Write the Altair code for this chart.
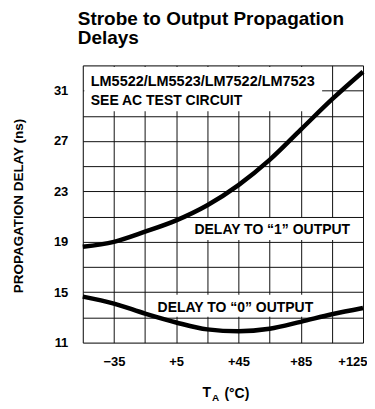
import altair as alt
import pandas as pd

# Data
temps = [-55, -35, -15, 5, 25, 45, 65, 85, 105, 125]
delay_one = [18.6, 19.0, 19.8, 20.7, 21.9, 23.5, 25.5, 27.9, 30.3, 32.5]
delay_zero = [14.65, 14.1, 13.3, 12.6, 12.05, 11.9, 12.1, 12.65, 13.25, 13.75]

x_grid = [-55, -35, -15, 5, 25, 45, 65, 85, 105, 125]
y_grid = [11, 13, 15, 17, 19, 21, 23, 25, 27, 29, 31, 33]

df = pd.DataFrame(
    {"T": temps * 2,
     "delay": delay_one + delay_zero,
     "series": ["one"] * len(temps) + ["zero"] * len(temps)}
)

W, H = 281, 278
FONT = "Liberation Sans, Arial, Helvetica, sans-serif"

xscale = alt.Scale(domain=[-55, 125], nice=False, zero=False)
yscale = alt.Scale(domain=[11, 33], nice=False, zero=False)

base = alt.Chart(df)

lines = base.mark_line(interpolate="monotone", strokeWidth=4.5, color="black").encode(
    x=alt.X("T:Q", scale=xscale,
            axis=alt.Axis(values=x_grid, title=None, grid=True, gridColor="#111",
                          gridWidth=1, domain=False, ticks=False,
                          labelExpr="(datum.value + 35) % 40 == 0 ? (datum.value > 0 ? '+' + datum.value : datum.label) : ''",
                          labelFont=FONT, labelFontSize=13, labelFontWeight="bold",
                          labelColor="black", labelPadding=13, labelFlush=True,
                          labelFlushOffset=4, labelOverlap=False)),
    y=alt.Y("delay:Q", scale=yscale,
            axis=alt.Axis(values=y_grid, title=None, grid=True, gridColor="#111",
                          gridWidth=1, domain=False, ticks=False,
                          labelExpr="datum.value % 4 == 3 ? datum.label : ''",
                          labelFont=FONT, labelFontSize=13, labelFontWeight="bold",
                          labelColor="black", labelPadding=15, labelOverlap=False)),
    detail="series:N",
)

def box(x, x2, y, y2):
    return alt.Chart(pd.DataFrame({"a": [0]})).mark_rect(color="white").encode(
        x=alt.value(x), x2=alt.value(x2), y=alt.value(y), y2=alt.value(y2))

def txt(s, x, y, size=14, angle=0, align="left", baseline="alphabetic"):
    return alt.Chart(pd.DataFrame({"a": [0]})).mark_text(
        text=s, font=FONT, fontSize=size, fontWeight="bold", color="black",
        align=align, baseline=baseline, angle=angle).encode(
        x=alt.value(x), y=alt.value(y))

boxes = box(1.5, 240, 1.5, 46) + box(105, 279.5, 153, 175) + box(67, 239, 230, 252)

texts = (
    txt("LM5522/LM5523/LM7522/LM7523", 8, 21, 14.5)
    + txt("SEE AC TEST CIRCUIT", 8, 39.5, 14)
    + txt("DELAY TO \u201c1\u201d OUTPUT", 112, 169, 14)
    + txt("DELAY TO \u201c0\u201d OUTPUT", 75, 247, 14)
    + txt("Strobe to Output Propagation", -5, -41, 19)
    + txt("Delays", -5, -21.5, 19)
    + txt("PROPAGATION DELAY (ns)", -64, 141, 13.5, angle=270, align="center", baseline="middle")
    + txt("T", 120, 333, 14)
    + txt("A", 129.5, 337, 10)
    + txt("(\u00b0C)", 142, 334, 14)
)

chart = alt.layer(boxes, lines, texts).properties(
    width=W, height=H,
    autosize=alt.AutoSizeParams(type="none"),
    padding={"left": 75, "top": 57, "right": 4, "bottom": 62},
).configure_view(stroke="black", strokeWidth=2.5).configure(background="white")

chart.save("out.html", embed_options={"renderer": "svg", "actions": False})
